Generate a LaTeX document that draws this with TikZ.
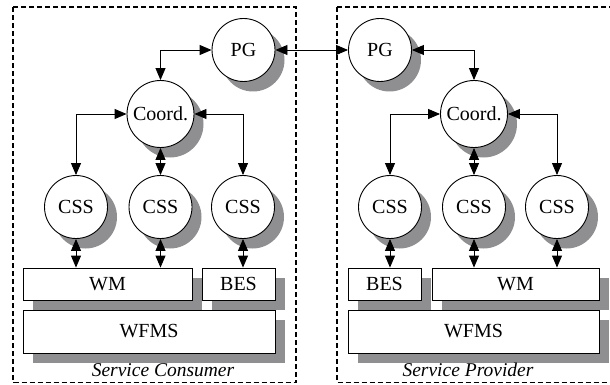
\documentclass[tikz,border=0pt]{standalone}
\usepackage{fontspec}
\setmainfont{Liberation Serif}
\newfontfamily\tmsfont{Liberation Serif}
\usetikzlibrary{arrows.meta,shadows}
\definecolor{shgray}{HTML}{8F8F91}
\tikzset{
  shad/.style={drop shadow={shadow xshift=9.5pt, shadow yshift=-10pt, fill=shgray, opacity=1}},
  circ/.style={circle, draw=black, line width=0.9pt, fill=white, inner sep=0pt, minimum size=63pt, shad},
  bigcirc/.style={circ, minimum size=67pt},
  boxn/.style={rectangle, draw=black, line width=0.9pt, fill=white, inner sep=0pt, minimum height=32pt, shad},
  dbl/.style={line width=0.9pt, {Triangle[length=12pt,width=10pt]}-{Triangle[length=12pt,width=10pt]}},
  frame/.style={draw=black, line width=1.5pt, dash pattern=on 5pt off 3pt},
  every node/.style={font=\tmsfont\fontsize{20}{22}\selectfont},
  lbl/.style={font=\tmsfont\fontsize{19.5}{22}\selectfont\itshape}
}
\begin{document}
\begin{tikzpicture}[x=1pt,y=-1pt]
\useasboundingbox (0,0) rectangle (610,385);
\clip (0,0) rectangle (610,385);
% frames
\draw[frame] (13,7) rectangle (296,382.5);
\draw[frame] (337,7) rectangle (612,382.5);
% left side
\node[circ] (PGL) at (243.5,50) {PG};
\node[bigcirc] (CoL) at (160.5,114) {Coord.};
\node[circ] (C1L) at (76,207) {CSS};
\node[circ] (C2L) at (160.5,207) {CSS};
\node[circ] (C3L) at (243,207) {CSS};
\node[boxn, minimum width=169pt] (WML) at (107.5,284) {WM};
\node[boxn, minimum width=73pt] (BESL) at (238.5,284) {BES};
\node[boxn, minimum width=252pt, minimum height=43pt] (WFL) at (149,331.5) {WFMS};
\node[lbl] (SCL) at (163,370) {Service Consumer};
% right side
\node[circ] (PGR) at (380,50) {PG};
\node[bigcirc] (CoR) at (474,114) {Coord.};
\node[circ] (C1R) at (390,207) {CSS};
\node[circ] (C2R) at (474,207) {CSS};
\node[circ] (C3R) at (557,207) {CSS};
\node[boxn, minimum width=73pt] (BESR) at (384.5,284) {BES};
\node[boxn, minimum width=167pt] (WMR) at (515.5,284) {WM};
\node[boxn, minimum width=251pt, minimum height=43pt] (WFR) at (473.5,331.5) {WFMS};
\node[lbl] (SPR) at (468,370) {Service Provider};
% connectors left
\draw[dbl] (PGL.west) -| (CoL.north);
\draw[dbl] (CoL.west) -| (C1L.north);
\draw[dbl] (CoL.east) -| (C3L.north);
\draw[dbl] (CoL.south) -- (C2L.north);
\draw[dbl] (C1L.south) -- (C1L.south |- WML.north);
\draw[dbl] (C2L.south) -- (C2L.south |- WML.north);
\draw[dbl] (C3L.south) -- (C3L.south |- BESL.north);
% link
\draw[dbl] (PGL.east) -- (PGR.west);
% connectors right
\draw[dbl] (PGR.east) -| (CoR.north);
\draw[dbl] (CoR.west) -| (C1R.north);
\draw[dbl] (CoR.east) -| (C3R.north);
\draw[dbl] (CoR.south) -- (C2R.north);
\draw[dbl] (C1R.south) -- (C1R.south |- BESR.north);
\draw[dbl] (C2R.south) -- (C2R.south |- WMR.north);
\draw[dbl] (C3R.south) -- (C3R.south |- WMR.north);
\end{tikzpicture}
\end{document}
